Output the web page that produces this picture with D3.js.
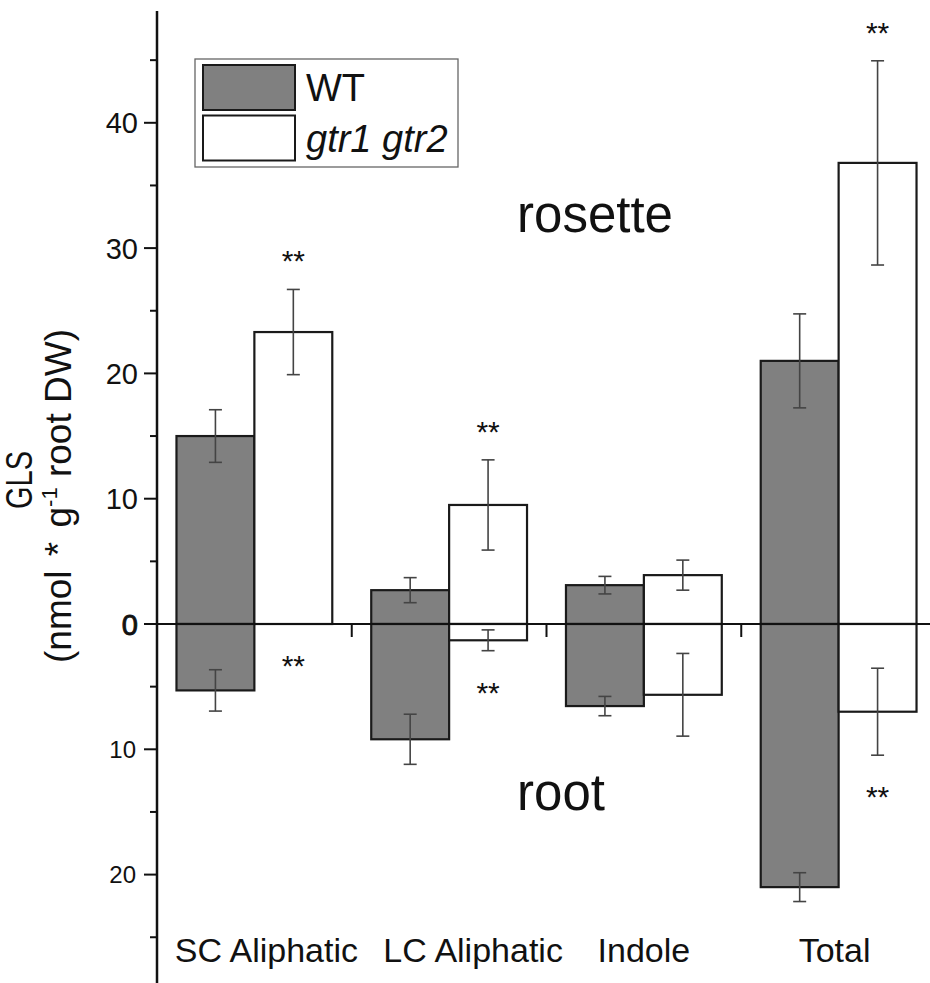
<!DOCTYPE html>
<html>
<head>
<meta charset="utf-8">
<script src="https://cdn.jsdelivr.net/npm/d3@7"></script>
<style>
  html, body { margin: 0; padding: 0; background: #fff; }
  svg { display: block; font-family: "Liberation Sans", Arial, sans-serif; }
</style>
</head>
<body>
<svg id="chart" width="930" height="983"></svg>
<script>
const categories = ["SC Aliphatic", "LC Aliphatic", "Indole", "Total"];
const series = ["WT", "gtr1 gtr2"];

// rosette (upwards)
const rosetteWT = [15.0, 2.7, 3.1, 21.0];
const rosetteWTErr = [2.1, 1.0, 0.7, 3.75];
const rosetteGtr = [23.3, 9.5, 3.9, 36.8];
const rosetteGtrErr = [3.4, 3.6, 1.2, 8.15];

// root (downwards)
const rootWT = [5.3, 9.2, 6.55, 21.0];
const rootWTErr = [1.65, 2.0, 0.77, 1.15];
const rootGtr = [0, 1.3, 5.65, 7.0];
const rootGtrErr = [0, 0.83, 3.3, 3.47];

// significance (** above gtr1 gtr2)
const rosetteSig = [true, true, false, true];
const rootSig = [true, true, false, true];

const topTicks = [0, 10, 20, 30, 40];
const topMinor = [5, 15, 25, 35, 45];
const bottomTicks = [0, 10, 20];
const bottomMinor = [5, 15, 25];

const settings = {
  width: 930,
  height: 983,
  axisX: 157,
  zeroY: 624,
  pxPerUnit: 12.53,
  right: 936,
};

const svg = d3.select("#chart");

const x0 = d3.scaleBand().domain(categories).range([settings.axisX, settings.right]).padding(0);
const bw = x0.bandwidth();
const x1 = d3.scaleBand().domain(series).range([bw * 0.1, bw * 0.9]).padding(0);

const topMax = settings.zeroY / settings.pxPerUnit;
const bottomMax = (settings.height - settings.zeroY) / settings.pxPerUnit;
const yTop = d3.scaleLinear().domain([0, topMax]).range([settings.zeroY, 0]);
const yBottom = d3.scaleLinear().domain([0, bottomMax]).range([settings.zeroY, settings.height]);

const fills = { "WT": "#808080", "gtr1 gtr2": "#ffffff" };

function rows(values, errs, name, sig) {
  return categories.map((c, i) => ({ cat: c, name, value: values[i], err: errs[i], sig: sig ? sig[i] : false }));
}

const rosetteRows = rows(rosetteWT, rosetteWTErr, "WT").concat(rows(rosetteGtr, rosetteGtrErr, "gtr1 gtr2", rosetteSig));
const rootRows = rows(rootWT, rootWTErr, "WT").concat(rows(rootGtr, rootGtrErr, "gtr1 gtr2", rootSig));

const plot = svg.append("g");

function drawBars(data, y, up) {
  const g = plot.append("g");
  g.selectAll("rect")
    .data(data.filter(d => d.value > 0))
    .join("rect")
    .attr("x", d => x0(d.cat) + x1(d.name))
    .attr("width", x1.bandwidth())
    .attr("y", d => up ? y(d.value) : y(0))
    .attr("height", d => Math.abs(y(d.value) - y(0)))
    .attr("fill", d => fills[d.name])
    .attr("stroke", "#1a1a1a")
    .attr("stroke-width", 2.2);

  const eb = g.selectAll("g.err")
    .data(data.filter(d => d.err > 0))
    .join("g")
    .attr("class", "err")
    .attr("stroke", "#444")
    .attr("stroke-width", 1.6);
  const cx = d => x0(d.cat) + x1(d.name) + x1.bandwidth() / 2;
  eb.append("line")
    .attr("x1", cx).attr("x2", cx)
    .attr("y1", d => y(d.value - d.err)).attr("y2", d => y(d.value + d.err));
  [-1, 1].forEach(s => {
    eb.append("line")
      .attr("x1", d => cx(d) - 6.5).attr("x2", d => cx(d) + 6.5)
      .attr("y1", d => y(d.value + s * d.err)).attr("y2", d => y(d.value + s * d.err));
  });

  g.selectAll("text.star")
    .data(data.filter(d => d.sig))
    .join("text")
    .attr("class", "star")
    .attr("x", cx)
    .attr("y", d => y(d.value + d.err) + (up ? -35 : 35) + 17)
    .attr("text-anchor", "middle")
    .attr("font-size", 30)
    .attr("fill", "#111")
    .text("**");
}

drawBars(rosetteRows, yTop, true);
drawBars(rootRows, yBottom, false);

// zero line
svg.append("line")
  .attr("x1", 145).attr("x2", settings.width)
  .attr("y1", settings.zeroY).attr("y2", settings.zeroY)
  .attr("stroke", "#111").attr("stroke-width", 2.2);

// category boundary ticks
svg.append("g")
  .selectAll("line")
  .data(categories.slice(1))
  .join("line")
  .attr("x1", d => x0(d)).attr("x2", d => x0(d))
  .attr("y1", settings.zeroY).attr("y2", settings.zeroY + 13)
  .attr("stroke", "#111").attr("stroke-width", 2);

// y axes
const axisG = svg.append("g").attr("transform", `translate(${settings.axisX},0)`);
axisG.append("line")
  .attr("y1", 11).attr("y2", settings.height)
  .attr("stroke", "#111").attr("stroke-width", 2.5);

function ticks(vals, y, len) {
  axisG.append("g").selectAll("line").data(vals).join("line")
    .attr("x1", -len).attr("x2", 0)
    .attr("y1", d => y(d)).attr("y2", d => y(d))
    .attr("stroke", "#111").attr("stroke-width", 2);
}
ticks(topTicks, yTop, 13);
ticks(topMinor, yTop, 7);
ticks(bottomTicks, yBottom, 13);
ticks(bottomMinor, yBottom, 7);

// shared "0" is drawn once (slightly heavier, as the two axes' zeros coincide)
axisG.append("g").selectAll("text").data(topTicks).join("text")
  .attr("x", -19).attr("y", d => yTop(d) + 10.5)
  .attr("text-anchor", "end").attr("font-size", 29).attr("fill", "#111")
  .attr("stroke", d => d === 0 ? "#111" : null)
  .attr("stroke-width", d => d === 0 ? 0.9 : null)
  .text(d => d);
axisG.append("g").selectAll("text").data(bottomTicks.filter(d => d > 0)).join("text")
  .attr("x", -21).attr("y", d => yBottom(d) + 8.5)
  .attr("text-anchor", "end").attr("font-size", 24).attr("fill", "#111")
  .text(d => d);

// y label
const yl = svg.append("g").attr("transform", "translate(0,488) rotate(-90)");
yl.append("text").attr("x", 8).attr("y", 32)
  .attr("text-anchor", "middle").attr("font-size", 36).attr("fill", "#111")
  .attr("textLength", 58).attr("lengthAdjust", "spacingAndGlyphs")
  .text("GLS");
const yl2 = yl.append("text").attr("x", -8).attr("y", 71)
  .attr("text-anchor", "middle").attr("font-size", 37).attr("fill", "#111");
yl2.append("tspan").text("(nmol");
yl2.append("tspan").attr("dx", 4).text(" *");
yl2.append("tspan").attr("dx", 4).text(" g");
yl2.append("tspan").attr("font-size", 22).attr("dy", -14).text("-1");
yl2.append("tspan").attr("dy", 14).text(" root DW)");

// category labels
const labelShift = [12, 24, 0, -4];
svg.append("g").selectAll("text").data(categories).join("text")
  .attr("x", (d, i) => x0(d) + bw / 2 + labelShift[i])
  .attr("y", 962)
  .attr("text-anchor", "middle").attr("font-size", 34).attr("fill", "#111")
  .text(d => d);

// region labels
svg.append("text").attr("x", 595).attr("y", 232)
  .attr("text-anchor", "middle").attr("font-size", 51).attr("fill", "#111").text("rosette");
svg.append("text").attr("x", 561).attr("y", 810)
  .attr("text-anchor", "middle").attr("font-size", 51).attr("fill", "#111").text("root");

// legend
const lg = svg.append("g").attr("transform", "translate(195,59)");
lg.append("rect").attr("width", 263).attr("height", 108)
  .attr("fill", "#fff").attr("stroke", "#666").attr("stroke-width", 1.3);
const items = lg.selectAll("g.item").data(series).join("g")
  .attr("class", "item")
  .attr("transform", (d, i) => `translate(8,${6 + i * 50.5})`);
items.append("rect").attr("width", 92).attr("height", 45)
  .attr("fill", d => fills[d]).attr("stroke", "#1a1a1a").attr("stroke-width", 2);
items.append("text").attr("x", 103).attr("y", 36)
  .attr("font-size", 38).attr("fill", "#111")
  .attr("font-style", (d, i) => i ? "italic" : "normal")
  .text(d => d);
</script>
</body>
</html>
